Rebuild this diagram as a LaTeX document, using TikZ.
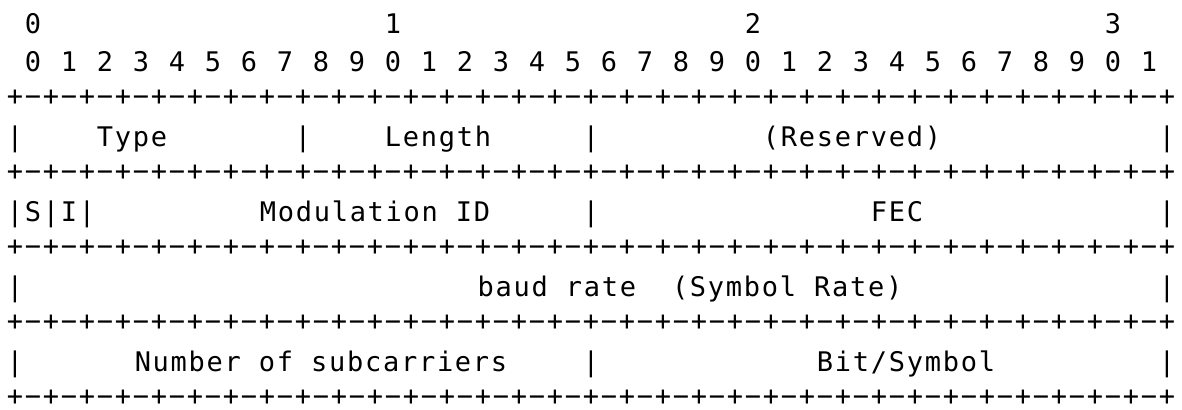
\documentclass[tikz,border=0pt]{standalone}
\usepackage{fontspec}
\newfontfamily\asciifont[LetterSpace=6.4]{DejaVu Sans Mono}
\tikzset{
  glyph/.style = {inner sep = 0, outer sep = 0, anchor = base,
    font = \asciifont\fontsize{13.5}{16}\selectfont},
  border/.style = {glyph, yshift = 1.6pt}
}

\begin{document}
\begin{tikzpicture}[x = 9pt, y = -18.75pt]
  \useasboundingbox (0pt, 0pt) rectangle (591pt, -205pt);
  \begin{scope}[shift = {(7.5pt, -17pt)}]
    % bit numbers
    \foreach \d in {0, ..., 3}
      \node [glyph] (tens-\d) at (20*\d + 1, 0) {\d};
    \foreach \b in {0, ..., 31} {
      \pgfmathtruncatemacro{\u}{mod(\b, 10)}
      \node [glyph] (bit-\b) at (2*\b + 1, 1) {\u};
    }
    % +-+- borders
    \foreach \r in {2, 4, 6, 8, 10} {
      \foreach \c in {0, 2, ..., 64}
        \node [border] (plus-\r-\c) at (\c, \r) {+};
      \foreach \c in {1, 3, ..., 63}
        \node [border] (dash-\r-\c) at (\c, \r) {−};
    }
    % field walls
    \foreach \r/\c in {3/0, 3/16, 3/32, 3/64, 5/0, 5/2, 5/4, 5/32, 5/64,
                       7/0, 7/64, 9/0, 9/32, 9/64}
      \node [glyph] (pipe-\r-\c) at (\c, \r) {|};
    % fields
    \node [glyph] (type) at (6.5, 3) {Type};
    \node [glyph] (length) at (23.5, 3) {Length};
    \node [glyph] (reserved) at (46.5, 3) {(Reserved)};
    \node [glyph] (s-flag) at (1, 5) {S};
    \node [glyph] (i-flag) at (3, 5) {I};
    \node [glyph] (mod-id) at (20, 5) {Modulation ID};
    \node [glyph] (fec) at (49, 5) {FEC};
    \node [glyph] (baud) at (37.5, 7) {baud rate~~(Symbol Rate)};
    \node [glyph] (subcarriers) at (17, 9) {Number of subcarriers};
    \node [glyph] (bits) at (49.5, 9) {Bit/Symbol};
  \end{scope}
\end{tikzpicture}
\end{document}
